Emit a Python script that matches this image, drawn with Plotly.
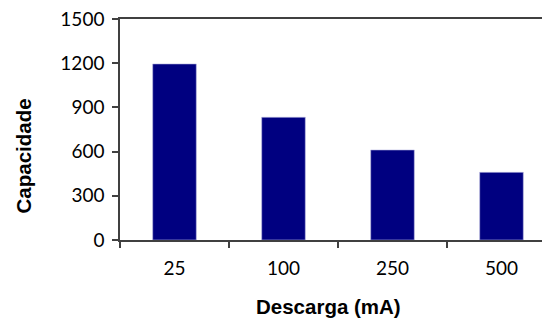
import plotly.graph_objects as go

categories = ["25", "100", "250", "500"]
capacidade = [1195, 833, 611, 459]
y_ticks = [0, 300, 600, 900, 1200, 1500]

# page body has an 8px margin; compensate so the plot lands where the reference has it
OFF = 8
L, T, B = 120 - OFF, 19 - OFF, 78
W, H = 550 - OFF, 318 - OFF
PW, PH = W - L, H - T - B

fig = go.Figure()
fig.add_trace(go.Bar(
    x=categories, y=capacidade,
    marker=dict(color="#000080", line=dict(color="#b8b8e0", width=0.6)),
    width=0.4,
))

axis_col = "#404040"
fig.update_layout(
    width=W, height=H,
    margin=dict(l=L, r=0, t=T, b=B, pad=0),
    paper_bgcolor="white", plot_bgcolor="white",
    showlegend=False,
    font=dict(family="Lato", size=19, color="#000000"),
    xaxis=dict(
        type="category",
        range=[-0.5, 3.445],
        showline=True, linecolor=axis_col, linewidth=1.5, mirror=True,
        ticks="outside", ticklen=6, tickcolor=axis_col, tickwidth=1.5,
        tickson="boundaries",
        ticklabelstandoff=10,
        showgrid=False, zeroline=False,
        tickfont=dict(family="Lato", size=19, color="#000000"),
    ),
    yaxis=dict(
        range=[0, 1500],
        tickvals=y_ticks,
        showline=True, linecolor=axis_col, linewidth=1.5,
        ticks="outside", ticklen=6, tickcolor=axis_col, tickwidth=1.5,
        ticklabelstandoff=4,
        ticklabeloverflow="allow",
        showgrid=False, zeroline=False,
        tickfont=dict(family="Lato", size=19, color="#000000"),
    ),
    annotations=[
        dict(text="<b>Capacidade</b>", textangle=-90,
             xref="paper", yref="paper",
             x=(23 - 120) / PW, y=(240 - 156.5) / PH,
             xanchor="center", yanchor="middle", showarrow=False,
             font=dict(family="Arial", size=20.5, color="#000000")),
        dict(text="<b>Descarga (mA)</b>",
             xref="paper", yref="paper",
             x=(328.5 - 120) / PW, y=(240 - 306) / PH,
             xanchor="center", yanchor="middle", showarrow=False,
             font=dict(family="Arial", size=20.5, color="#000000")),
    ],
)

fig.write_html("out.html")
